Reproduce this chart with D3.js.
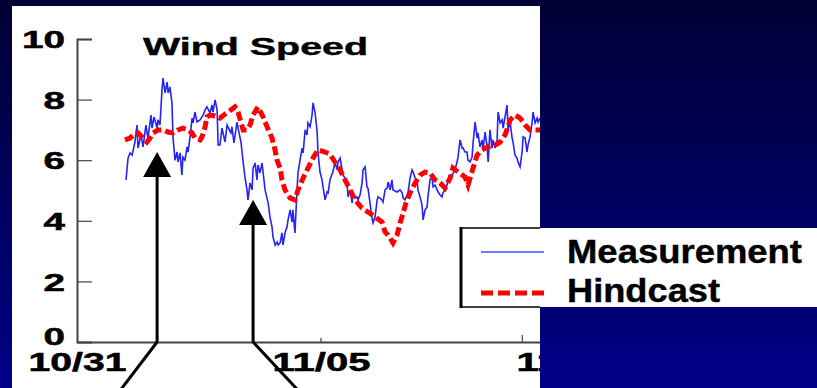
<!DOCTYPE html>
<html><head><meta charset="utf-8">
<script src="https://cdn.jsdelivr.net/npm/d3@7"></script>
<style>html,body{margin:0;padding:0;background:#000050;overflow:hidden}</style>
</head><body><svg id="c" width="817" height="388"></svg>
<script>
// hours since 10/31 00:00
const measHours = [24.1,25.1,26.1,27.1,28.5,29.5,30.0,31.5,32.5,33.9,34.9,36.4,36.9,37.9,39.4,39.8,40.8,41.8,42.3,43.3,44.3,44.8,45.7,46.7,47.2,48.2,49.2,49.7,50.7,51.6,52.1,53.1,54.1,54.6,55.6,56.6,57.1,58.0,59.0,60.5,62.0,63.0,63.9,65.4,66.4,66.9,67.9,68.9,69.4,70.3,71.3,72.8,73.8,75.7,76.2,77.2,78.7,79.7,80.7,81.7,82.6,83.6,84.1,85.1,86.1,86.6,87.6,88.5,89.0,90.0,91.0,91.5,92.5,94.0,94.9,95.9,96.4,97.4,98.4,98.9,99.9,100.8,101.3,102.3,103.3,103.8,104.8,105.8,106.2,107.2,108.2,108.7,109.7,110.7,111.2,112.2,113.1,113.6,114.6,115.6,116.1,117.1,118.1,118.5,119.5,120.5,121.0,122.0,123.0,123.5,124.4,125.9,126.9,127.9,128.4,129.4,130.4,130.8,131.8,132.8,133.3,134.3,135.3,135.8,136.7,137.7,138.2,139.2,140.2,140.7,141.7,142.6,143.1,144.1,145.1,145.6,146.6,147.6,148.1,149.0,150.0,150.5,151.5,152.5,153.0,154.0,154.9,155.4,157.4,158.9,159.9,160.4,161.3,162.3,162.8,163.8,164.8,165.3,166.3,167.2,167.7,168.7,169.7,170.2,171.2,172.2,172.6,173.6,174.6,175.1,176.1,177.1,177.6,178.6,179.5,180.0,181.0,182.0,182.5,183.5,184.5,185.0,185.9,186.9,187.4,188.4,189.4,189.9,190.8,191.8,192.3,193.3,194.3,194.8,195.8,196.8,197.2,198.2,199.2,199.7,200.7,201.7,202.2,203.1,204.1,204.6,205.6,206.6,207.1,208.1,209.1,209.6,210.5,211.5,212.0,213.0,214.0,214.5,215.4,216.4,216.9,217.9,218.9,219.4,220.4,221.3,221.8,222.8,223.8,224.3,225.3,226.3,226.8,227.7];
const measSpeed = [5.35,6.07,6.24,6.17,6.6,7.16,6.4,6.83,6.44,7.16,6.73,7.49,7.06,7.43,7.06,7.33,7.16,8.32,8.71,8.22,8.58,8.22,8.42,7.89,6.77,6.0,6.27,5.94,6.24,5.51,6.1,6.0,6.44,6.27,6.77,7.39,7.23,7.59,7.26,7.33,7.49,7.66,7.76,7.56,7.82,7.59,7.99,7.66,6.5,6.5,7.06,6.6,7.16,6.9,7.1,6.57,7.26,6.9,6.57,5.94,5.45,5.02,4.69,5.25,5.02,5.74,5.91,5.35,5.84,5.58,5.91,5.61,5.02,4.59,4.13,3.8,3.47,3.2,3.3,3.2,3.27,3.6,3.2,3.6,3.8,4.03,4.36,3.96,4.36,3.6,5.02,5.58,6.0,6.4,6.24,7.0,6.83,7.23,7.1,7.49,7.89,7.56,6.93,6.27,5.61,5.35,5.12,4.69,4.95,4.92,5.35,5.63,5.94,5.68,5.94,6.07,5.68,5.51,5.41,5.25,4.79,5.02,4.59,4.92,4.75,4.79,4.69,4.85,5.25,5.68,5.78,5.12,5.08,4.59,4.09,3.93,4.13,4.69,4.79,4.75,4.69,4.62,5.02,5.08,5.28,5.02,5.35,5.02,4.95,5.02,4.92,4.75,4.69,4.85,4.95,5.41,5.68,5.61,5.41,5.35,5.02,4.79,4.52,4.03,4.36,4.46,4.79,5.35,5.45,5.12,5.18,5.02,4.95,4.85,4.79,4.92,5.02,5.18,5.35,5.51,5.51,5.58,5.68,5.94,6.1,6.67,6.4,6.4,6.27,6.27,6.0,5.94,6.1,6.57,7.26,6.73,6.9,6.44,6.67,6.34,6.93,6.44,5.94,7.0,6.4,6.67,6.4,6.67,7.59,7.23,7.33,7.06,7.43,7.82,7.0,7.26,6.73,6.57,6.17,6.07,5.94,5.78,6.27,6.77,6.73,6.27,6.5,6.77,7.23,7.59,7.23,7.39,7.26,7.39];
const hindHours = [23.6,26.1,27.5,30.0,32.5,34.4,35.9,37.4,39.8,42.3,44.8,47.2,49.7,52.1,54.6,56.6,58.0,60.5,61.5,63.0,63.9,65.4,67.9,70.3,72.8,74.3,77.7,79.2,81.7,83.6,85.1,86.6,89.0,91.5,93.5,95.9,97.4,98.4,99.9,100.8,102.3,104.8,107.2,108.7,111.2,113.6,116.1,118.5,122.0,124.4,126.9,129.4,131.8,134.3,136.7,140.2,143.1,146.6,150.0,151.5,153.0,155.4,157.4,158.9,160.4,161.8,163.8,166.3,168.7,171.2,173.6,176.1,178.6,181.0,183.5,184.9,187.4,190.8,192.3,194.8,196.8,199.2,202.2,205.6,208.1,210.5,212.0,213.0,215.4,217.9,220.4,222.8,225.3,227.7];
const hindSpeed = [6.67,6.73,6.83,6.9,6.73,6.6,6.73,6.9,7.0,7.0,6.93,6.9,7.0,7.06,7.0,6.9,6.73,6.67,6.77,7.1,7.43,7.49,7.46,7.39,7.52,7.59,7.76,7.59,7.0,7.0,7.16,7.49,7.76,7.43,7.1,6.73,6.34,6.0,5.74,5.35,5.02,4.75,4.69,5.02,5.41,5.74,6.07,6.34,6.27,6.2,5.94,5.68,5.35,5.02,4.69,4.42,4.29,4.13,3.96,3.63,3.53,3.27,3.53,3.93,4.26,4.59,4.92,5.25,5.51,5.61,5.58,5.35,5.25,5.08,5.41,5.74,5.61,5.45,5.18,5.74,6.17,6.34,6.44,6.5,6.6,6.83,7.1,7.33,7.49,7.39,7.16,7.0,7.0,7.0];
const yTicks = [0,2,4,6,8,10];
const xTickHours = [0,120,240];
const xTickLabels = ["10/31","11/05","11/10"];
const xMarkHours = [120,219];
const seriesNames = ["Measurement","Hindcast"];
const titleText = "Wind Speed";
const arrowHours = [39.4,86.6];
const arrowTips = [6.27,4.69];
const arrowFeet = [-18,22]; // hours offset of the diagonal tails

const svg = d3.select("#c");
const defs = svg.append("defs");
const grad = defs.append("linearGradient").attr("id","bg").attr("x1",0).attr("y1",0).attr("x2",0).attr("y2",1);
grad.append("stop").attr("offset","0%").attr("stop-color","#000034");
grad.append("stop").attr("offset","100%").attr("stop-color","#000088");
defs.append("clipPath").attr("id","panel").append("rect").attr("x",12).attr("y",6).attr("width",528).attr("height",382);

svg.append("rect").attr("width",817).attr("height",388).attr("fill","url(#bg)");
svg.append("rect").attr("x",12).attr("y",6).attr("width",528).attr("height",382).attr("fill","#fff");

const x = d3.scaleLinear().domain([0,240]).range([77,565]);
const y = d3.scaleLinear().domain([0,10]).range([342,39]);
const font = "'Liberation Sans', Arial, Helvetica, sans-serif";

const g = svg.append("g").attr("clip-path","url(#panel)");

// title
g.append("text").attr("x",143).attr("y",55).attr("font-family",font).attr("font-weight","bold")
  .attr("font-size",24).attr("textLength",225).attr("lengthAdjust","spacingAndGlyphs")
  .attr("fill","#000").attr("stroke","#000").attr("stroke-width",0.4).text(titleText);

// y axis
const yAx = g.append("g").attr("transform","translate(77,0)")
  .call(d3.axisLeft(y).tickValues(yTicks).tickSize(-15).tickPadding(12).tickFormat(d3.format("d")));
yAx.select(".domain").attr("stroke","#444").attr("stroke-width",2);
yAx.selectAll(".tick line").attr("stroke","#444").attr("stroke-width",1.2);
yAx.selectAll(".tick").filter(d=>d===0).select("line").remove();
yAx.selectAll(".tick text").attr("font-family",font).attr("font-weight","bold").attr("font-size",24)
  .attr("fill","#000").attr("stroke","#000").attr("stroke-width",0.5)
  .attr("dy",d=>d===0?"0.1em":"0.36em")
  .attr("textLength",d=>String(d).length*21.5).attr("lengthAdjust","spacingAndGlyphs");

// x axis
const xAx = g.append("g").attr("transform","translate(0,342)")
  .call(d3.axisBottom(x).tickValues(xTickHours).tickSize(0).tickPadding(11).tickFormat((d,i)=>xTickLabels[i]));
xAx.select(".domain").attr("stroke","#444").attr("stroke-width",2);
xAx.selectAll(".tick text").attr("font-family",font).attr("font-weight","bold").attr("font-size",25)
  .attr("fill","#000").attr("stroke","#000").attr("stroke-width",0.5)
  .attr("textLength",98).attr("lengthAdjust","spacingAndGlyphs");
g.selectAll(".xmark").data(xMarkHours).join("line").attr("class","xmark")
  .attr("x1",d=>x(d)).attr("x2",d=>x(d)).attr("y1",342).attr("y2",(d,i)=>i?335:338)
  .attr("stroke","#444").attr("stroke-width",1.2);

// lines
const meas = measHours.map((h,i)=>[h,measSpeed[i]]);
const hind = hindHours.map((h,i)=>[h,hindSpeed[i]]);
const line = d3.line().x(d=>x(d[0])).y(d=>y(d[1]));
g.append("path").datum(meas).attr("d",line).attr("fill","none").attr("stroke","#2424ff").attr("stroke-width",1.6);
g.append("path").datum(hind).attr("d",line).attr("fill","none").attr("stroke","#ff0000").attr("stroke-width",5)
  .attr("stroke-dasharray","9,4");

// arrows
arrowHours.forEach((h,i)=>{
  const ax = x(h), tip = y(arrowTips[i]);
  g.append("line").attr("x1",ax).attr("x2",ax).attr("y1",342).attr("y2",tip+20).attr("stroke","#000").attr("stroke-width",3);
  g.append("path").attr("d",`M${ax},${tip}L${ax-14},${tip+25}L${ax+14},${tip+25}Z`).attr("fill","#000");
  g.append("line").attr("x1",ax).attr("y1",342).attr("x2",x(h+arrowFeet[i])).attr("y2",390)
    .attr("stroke","#000").attr("stroke-width",3);
});

// legend
const lg = svg.append("g");
lg.append("rect").attr("x",460).attr("y",228).attr("width",357).attr("height",79).attr("fill","#fff");
lg.append("line").attr("x1",460).attr("x2",540).attr("y1",228).attr("y2",228).attr("stroke","#000").attr("stroke-width",1.5);
lg.append("line").attr("x1",460).attr("x2",540).attr("y1",307).attr("y2",307).attr("stroke","#000").attr("stroke-width",1.5);
lg.append("line").attr("x1",461).attr("x2",461).attr("y1",227).attr("y2",308).attr("stroke","#000").attr("stroke-width",3);
lg.append("line").attr("x1",481).attr("x2",544).attr("y1",252).attr("y2",252).attr("stroke","#4a4aff").attr("stroke-width",1.6);
lg.append("line").attr("x1",481).attr("x2",544).attr("y1",293).attr("y2",293).attr("stroke","#ff0000").attr("stroke-width",5).attr("stroke-dasharray","12,5");
lg.selectAll("text.lt").data(seriesNames).join("text").attr("class","lt")
  .attr("x",567).attr("y",(d,i)=>i?302:263).attr("font-family",font).attr("font-weight","bold").attr("font-size",33)
  .attr("fill","#000").attr("stroke","#000").attr("stroke-width",0.4)
  .attr("textLength",(d,i)=>i?153:235).attr("lengthAdjust","spacingAndGlyphs").text(d=>d);
</script></body></html>
